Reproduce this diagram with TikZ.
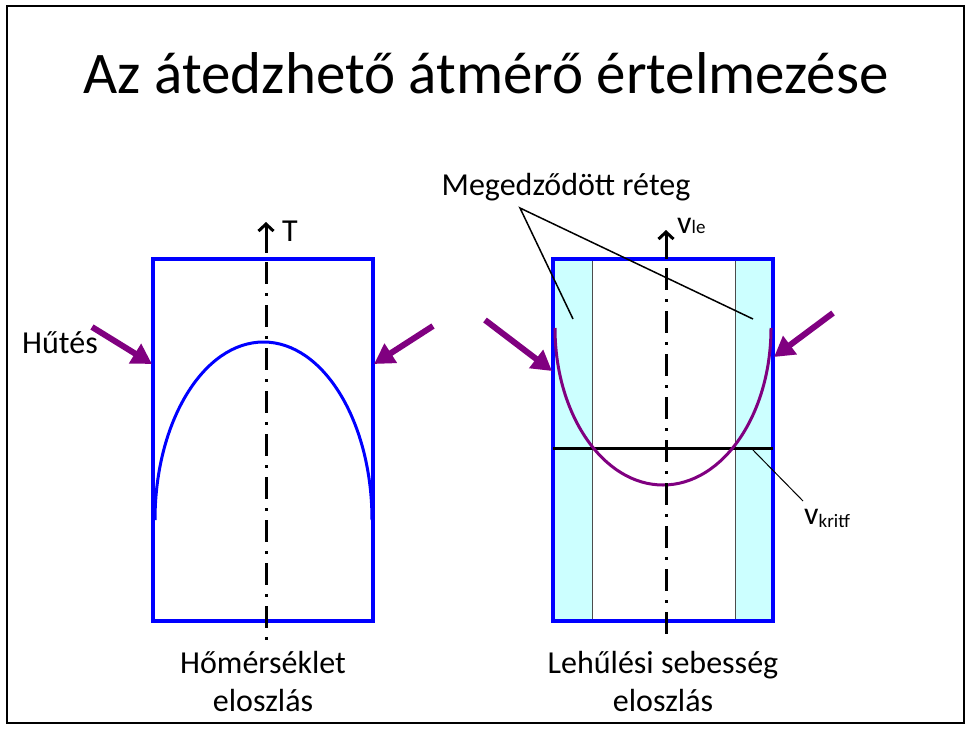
\documentclass[tikz,border=0pt]{standalone}
\usepackage{fontspec}
\setmainfont{Carlito}
\usetikzlibrary{arrows.meta}
\definecolor{hutes}{RGB}{128,0,128}
\definecolor{reteg}{RGB}{204,255,255}

\begin{document}
\begin{tikzpicture}[x=1pt,y=-1pt,
  lbl/.style={font=\fontsize{32}{38}\selectfont, inner sep=0pt, anchor=base},
  axis/.style={line width=3pt, dash pattern=on 3pt off 9pt on 22pt off 9pt},
  axistip/.style={line width=3pt, -{Straight Barb[length=7pt,width=15pt]}},
  cool/.style={line width=6pt, hutes, -{Triangle[length=20pt,width=22pt]}},
  body/.style={draw=blue, line width=4pt},
  layer/.style={fill=reteg, draw=black!70, line width=1pt}]
  \useasboundingbox (0,0) rectangle (968,731);
  \draw[line width=2.5pt] (7,6) rectangle (964,723);

  \node[font=\fontsize{59}{70}\selectfont, anchor=base] (cim) at (486,93)
    {Az átedzhető átmérő értelmezése};

  % homerseklet eloszlas
  \draw[body] (153,259) rectangle (373,621);
  \draw[blue, line width=3pt] (155,520)
    arc[start angle=180, end angle=360, x radius=108.5, y radius=178];
  \coordinate (Ttop) at (266,222);
  \coordinate (Tmid) at (266,250);
  \coordinate (Tbot) at (266,640);
  \draw[axistip] (Tmid) -- (Ttop);
  \draw[axis] (Tmid) -- (Tbot);
  \node[lbl, anchor=base west] (T) at (282,241) {T};

  \coordinate (h1a) at (92,327);  \coordinate (h1b) at (152,364);
  \coordinate (h2a) at (433,326); \coordinate (h2b) at (374,364);
  \draw[cool] (h1a) -- (h1b);
  \draw[cool] (h2a) -- (h2b);
  \node[lbl] (hutesfel) at (60,353) {Hűtés};

  \node[lbl] (homers1) at (263,673) {Hőmérséklet};
  \node[lbl] (homers2) at (263,711) {eloszlás};

  % lehulesi sebesseg eloszlas
  \draw[layer] (553,259) rectangle (592,621);
  \draw[layer] (735,259) rectangle (773,621);
  \draw[body] (553,259) rectangle (773,621);
  \coordinate (kl) at (553,448);
  \coordinate (kr) at (773,448);
  \draw[line width=3pt] (kl) -- (kr);
  \draw[hutes, line width=3pt] (555,328)
    arc[start angle=180, end angle=0, x radius=108, y radius=157];
  \coordinate (vtop) at (666,230);
  \coordinate (vmid) at (666,256);
  \coordinate (vbot) at (666,640);
  \draw[axistip] (vmid) -- (vtop);
  \draw[axis] (vmid) -- (vbot);
  \node[lbl, anchor=base west] (vle) at (677,233)
    {v{\fontsize{19}{19}\selectfont le}};

  \coordinate (h3a) at (485,320); \coordinate (h3b) at (552,371);
  \coordinate (h4a) at (833,313); \coordinate (h4b) at (774,357);
  \draw[cool] (h3a) -- (h3b);
  \draw[cool] (h4a) -- (h4b);

  % leader lines
  \node[lbl] (reteg) at (566,195) {Megedződött réteg};
  \coordinate (csucs) at (520,208);
  \coordinate (bal) at (573,319);
  \coordinate (jobb) at (753,319);
  \draw[line width=1.5pt] (bal) -- (csucs) -- (jobb);

  \coordinate (kp) at (752,449);
  \coordinate (kend) at (803,501);
  \draw[line width=1pt] (kp) -- (kend);
  \node[lbl, anchor=base west] (vkrit) at (804,524)
    {v{\fontsize{19}{19}\selectfont\raisebox{-3pt}{kritf}}};

  \node[lbl] (lehul1) at (663,673) {Lehűlési sebesség};
  \node[lbl] (lehul2) at (663,711) {eloszlás};
\end{tikzpicture}
\end{document}
